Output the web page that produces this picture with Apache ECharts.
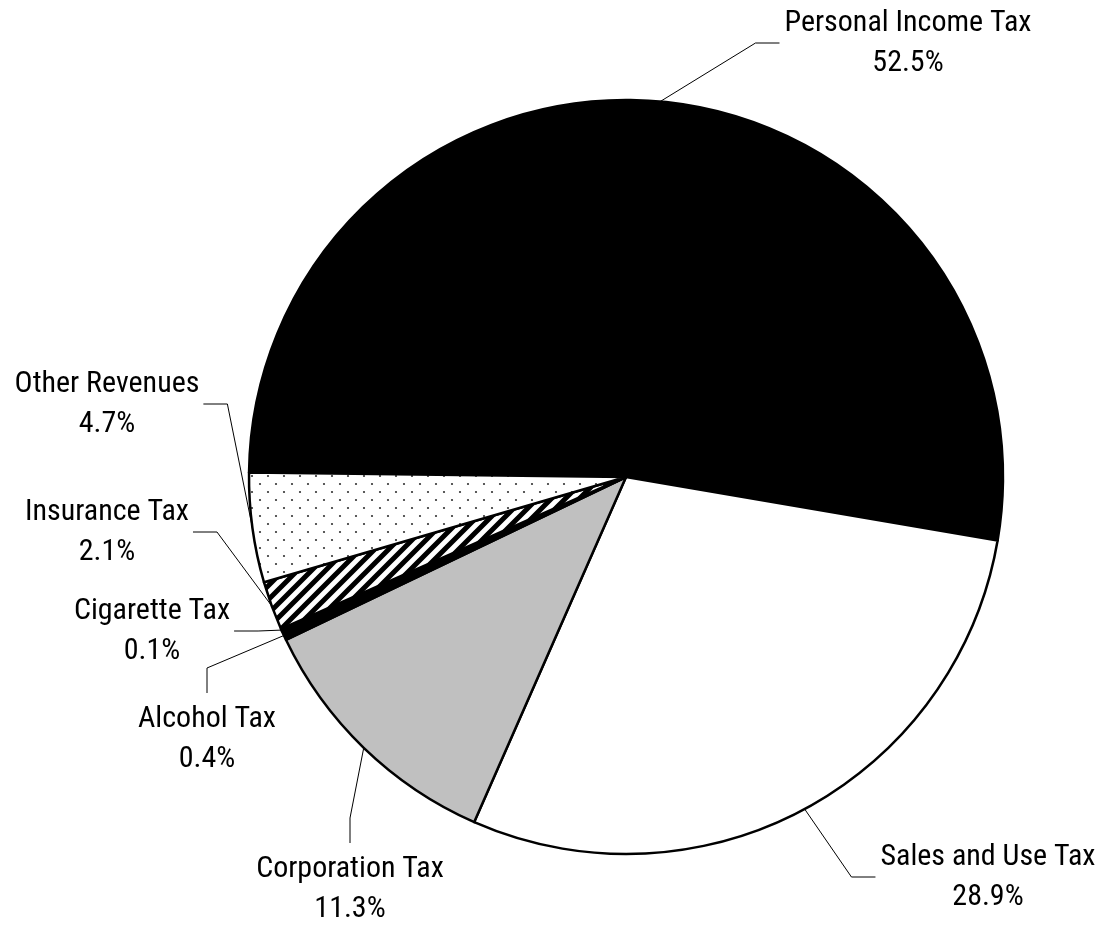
<!DOCTYPE html>
<html>
<head>
<meta charset="utf-8">
<script src="https://cdn.jsdelivr.net/npm/echarts@6/dist/echarts.min.js"></script>
<style>
html,body{margin:0;padding:0;background:#fff;}
#c{width:1103px;height:927px;}
</style>
</head>
<body>
<div id="c"></div>
<script>
// ---- data ----
const categories = ['Personal Income Tax', 'Sales and Use Tax', 'Corporation Tax', 'Alcohol Tax', 'Cigarette Tax', 'Insurance Tax', 'Other Revenues'];
const shares = [52.5, 28.9, 11.3, 0.4, 0.1, 2.1, 4.7];

// ---- layout (label centre + side from which the leader line arrives) ----
const labelPlacement = [
  { x: 908, y: 43, side: 'left' },
  { x: 988, y: 877, side: 'left' },
  { x: 350, y: 889, side: 'top' },
  { x: 207, y: 739, side: 'top' },
  { x: 152, y: 631, side: 'right' },
  { x: 107, y: 532, side: 'right' },
  { x: 107, y: 404, side: 'right' }
];

// ---- fill patterns ----
function dotPattern() {
  const c = document.createElement('canvas');
  c.width = 16; c.height = 16;
  const g = c.getContext('2d');
  g.fillStyle = '#fff'; g.fillRect(0, 0, 16, 16);
  g.fillStyle = '#333';
  [[4, 4], [12, 12]].forEach(function (p) {
    g.beginPath(); g.arc(p[0], p[1], 1.1, 0, Math.PI * 2); g.fill();
  });
  return c;
}
function stripePattern() {
  const s = 14;
  const c = document.createElement('canvas');
  c.width = s; c.height = s;
  const g = c.getContext('2d');
  g.fillStyle = '#fff'; g.fillRect(0, 0, s, s);
  g.strokeStyle = '#000'; g.lineWidth = 5;
  g.beginPath();
  g.moveTo(-s, s); g.lineTo(s, -s);
  g.moveTo(0, s); g.lineTo(s, 0);
  g.moveTo(0, 2 * s); g.lineTo(2 * s, 0);
  g.stroke();
  return c;
}

const fills = [
  '#000000',
  '#ffffff',
  '#c0c0c0',
  '#000000',
  '#ffffff',
  { image: stripePattern(), repeat: 'repeat' },
  { image: dotPattern(), repeat: 'repeat' }
];

const pieData = categories.map(function (name, i) {
  return { name: name, value: shares[i], itemStyle: { color: fills[i] } };
});

const chart = echarts.init(document.getElementById('c'), null, { renderer: 'canvas' });
chart.setOption({
  backgroundColor: '#ffffff',
  animation: false,
  series: [{
    type: 'pie',
    center: [626, 477],
    radius: 377,
    startAngle: 179.3,
    clockwise: true,
    avoidLabelOverlap: false,
    data: pieData,
    itemStyle: { borderColor: '#000', borderWidth: 2.5 },
    emphasis: { disabled: true },
    label: {
      show: true,
      position: 'outside',
      formatter: function (p) { return p.name + '\n' + p.value.toFixed(1) + '%'; },
      fontFamily: "'Liberation Sans Narrow', 'Arial Narrow', 'Roboto Condensed', Roboto, sans-serif",
      fontSize: 30,
      lineHeight: 40,
      color: '#000',
      align: 'center'
    },
    labelLine: {
      show: true,
      smooth: false,
      length: 20,
      length2: 20,
      lineStyle: { color: '#000', width: 1 }
    },
    labelLayout: function (p) {
      const a = labelPlacement[p.dataIndex];
      const w = p.labelRect.width, h = p.labelRect.height;
      const start = p.labelLinePoints ? p.labelLinePoints[0] : [a.x, a.y];
      let end, bend;
      if (a.side === 'left') {
        end = [a.x - w / 2 - 5, a.y]; bend = [end[0] - 24, a.y];
      } else if (a.side === 'right') {
        end = [a.x + w / 2 + 4, a.y]; bend = [end[0] + 24, a.y];
      } else {
        end = [a.x, a.y - h / 2 - 6]; bend = [a.x, end[1] - 25];
      }
      return {
        x: a.x, y: a.y, align: 'center', verticalAlign: 'middle',
        labelLinePoints: [start, bend, end]
      };
    }
  }]
});
</script>
</body>
</html>
